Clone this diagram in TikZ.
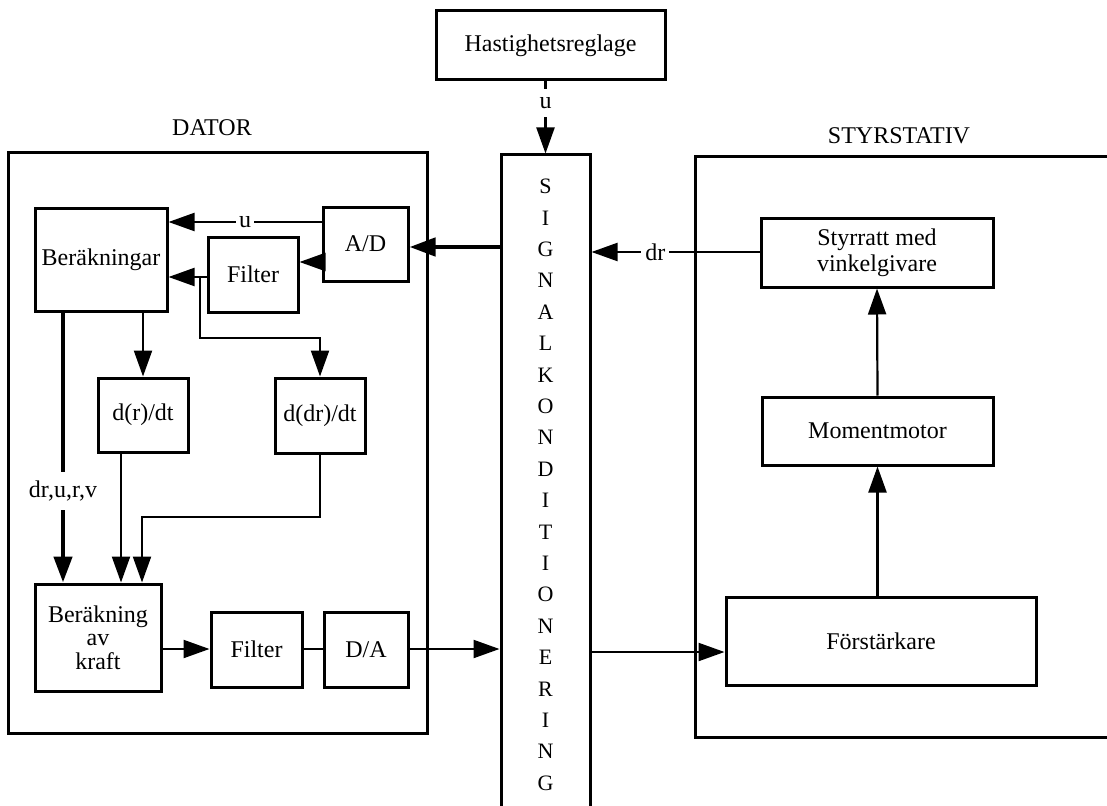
\documentclass[tikz,border=0pt]{standalone}
\usepackage{fontspec}
\setmainfont{Liberation Serif}
\usetikzlibrary{arrows.meta}

\tikzset{
  box/.style={draw, line width=3pt, align=center, inner sep=2pt,
    font=\fontsize{24}{25}\selectfont},
  frame/.style={draw, line width=3pt, inner sep=0pt},
  conn/.style={line width=2.2pt},
  thickconn/.style={line width=4.5pt},
  lbl/.style={font=\fontsize{24}{25}\selectfont, inner sep=3pt},
}

\begin{document}
\begin{tikzpicture}[x=1pt, y=-1pt, >={Triangle[length=26pt,width=18pt]}]
  \useasboundingbox (0,0) rectangle (1107,805);

  % frames
  \node[frame, minimum width=419, minimum height=580] (dator) at (217.5,443) {};
  \node[frame, minimum width=435, minimum height=580] (stativ) at (912.5,447) {};
  \node[lbl] at (212,128) {DATOR};
  \node[lbl] at (899,136) {STYRSTATIV};

  % signal conditioning
  \node[frame, minimum width=89, minimum height=695] (sig) at (545.5,502.5) {};
  \node[anchor=north, align=center, inner sep=0pt,
    font=\fontsize{22}{31.4}\selectfont] (letters) at (545.5,179)
    {S\\I\\G\\N\\A\\L\\K\\O\\N\\D\\I\\T\\I\\O\\N\\E\\R\\I\\N\\G};
  \node[box, minimum width=229, minimum height=69] (hast) at (550.5,45.5) {Hastighetsreglage};

  % dator
  \node[box, minimum width=132, minimum height=103] (berak) at (101,259.5) {Beräkningar};
  \node[box, minimum width=85, minimum height=74] (ad) at (365.5,244) {A/D};
  \node[box, minimum width=90, minimum height=75] (filt1) at (253,274.5) {Filter};
  \node[box, minimum width=90, minimum height=74] (dtr) at (143,415) {d(r)/dt};
  \node[box, minimum width=90, minimum height=75] (dtdr) at (320,415.5) {d(dr)/dt};
  \node[box, minimum width=126, minimum height=107,
    font=\fontsize{24}{23.5}\selectfont] (kraft) at (98,637.5) {Beräkning\\av\\kraft};
  \node[box, minimum width=91, minimum height=75] (filt2) at (256.5,649.5) {Filter};
  \node[box, minimum width=84, minimum height=75] (da) at (366,649.5) {D/A};

  % styrstativ
  \node[box, minimum width=232, minimum height=69,
    font=\fontsize{24}{26}\selectfont] (styr) at (877,252.5) {Styrratt med\\vinkelgivare};
  \node[box, minimum width=231, minimum height=68] (mom) at (877.5,431) {Momentmotor};
  \node[box, minimum width=310, minimum height=88] (forst) at (881,641) {Förstärkare};

  % connectors
  \draw[conn, ->] (hast.south -| sig.north) -- node[lbl, fill=white, pos=0.3, inner ysep=8pt] {u} (sig.north);
  \draw[thickconn, ->] (sig.west |- 0,247) -- (ad.east |- 0,247);
  \draw[conn, ->] (ad.west |- 0,222) -- node[lbl, fill=white, inner ysep=1pt] {u} (berak.east |- 0,222);
  \draw[conn, ->] (ad.west |- 0,262) -- (filt1.east |- 0,262);
  \draw[conn, ->] (filt1.west |- 0,277) -- (berak.east |- 0,277);
  \draw[conn, ->] (200,277) |- (dtdr.north |- 0,338) -- (dtdr.north);
  \draw[conn, ->] (dtr.north |- berak.south) -- (dtr.north);
  \draw[thickconn, ->] (berak.south -| 63,0) -- node[lbl, fill=white, pos=0.66, inner ysep=9pt] {dr,u,r,v} (kraft.north -| 63,0);
  \draw[conn, ->] (dtr.south -| 121,0) -- (kraft.north -| 121,0);
  \draw[conn, ->] (dtdr.south) |- (142,517) -- (kraft.north -| 142,0);
  \draw[conn, ->] (kraft.east |- 0,649) -- (filt2.west |- 0,649);
  \draw[conn] (filt2.east |- 0,649) -- (da.west |- 0,649);
  \draw[conn, ->] (da.east |- 0,649) -- (sig.west |- 0,649);
  \draw[conn, ->] (sig.east |- 0,652) -- (forst.west |- 0,652);
  \draw[conn, ->] (forst.north -| mom.south) -- (mom.south);
  \draw[conn, ->] (mom.north) -- (styr.south);
  \draw[conn, ->] (styr.west |- 0,252) -- node[lbl, fill=white, pos=0.62, inner xsep=4pt] {dr} (sig.east |- 0,252);
\end{tikzpicture}
\end{document}
